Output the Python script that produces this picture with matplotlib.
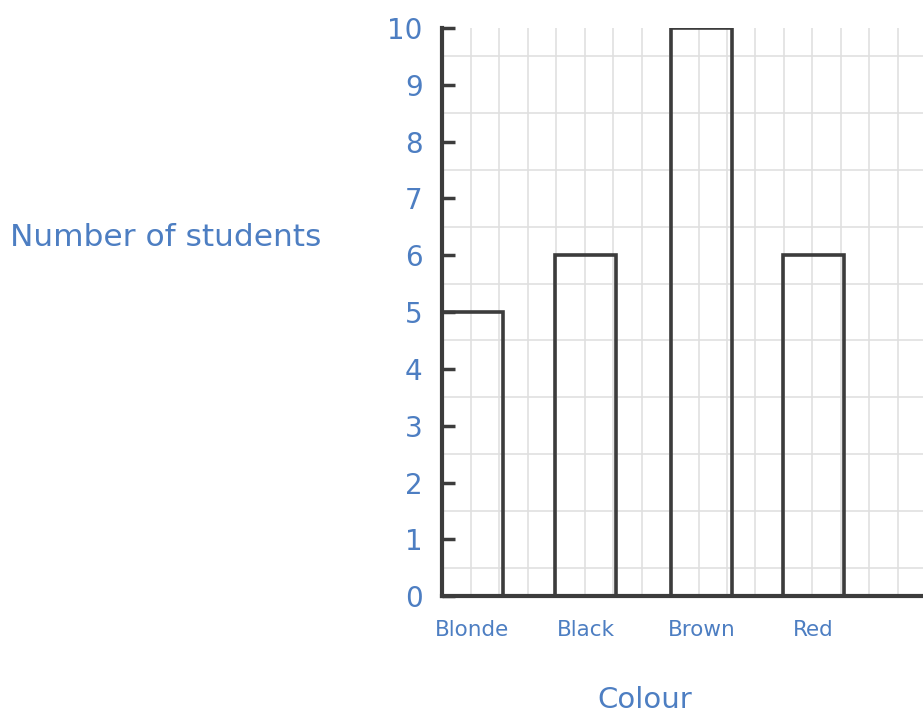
import matplotlib.pyplot as plt
import numpy as np

# hair colour survey
colours = ['Blonde', 'Black', 'Brown', 'Red']
students = [5, 6, 10, 6]
bar_pos = [0.53, 2.52, 4.55, 6.51]
y_ticks = list(range(0, 11))

blue = '#4d7ec2'
dark = '#3c3c3c'
font = 'DejaVu Sans'

fig = plt.figure(figsize=(9.23, 7.14), dpi=100)
ax = fig.add_axes([0.479, 0.165, 0.521, 0.796])

ax.bar(bar_pos, students, width=1.07, facecolor='none', edgecolor=dark,
       linewidth=2.6, zorder=3)

ax.set_xlim(0, 8.44)
ax.set_ylim(0, 10)

# graph paper grid every half unit
ax.set_xticks(np.arange(0, 8.5, 0.5), minor=True)
ax.set_yticks(np.arange(0, 10.5, 0.5), minor=True)
ax.grid(which='minor', color='#e0e0e0', linewidth=1.2, linestyle='-')
ax.tick_params(which='minor', length=0)

ax.set_yticks(y_ticks)
ax.set_yticklabels([str(t) for t in y_ticks], color=blue, fontsize=20,
                   family=font)
ax.tick_params(axis='y', direction='in', length=9, width=2.5, color=dark,
               pad=14)

ax.set_xticks(bar_pos)
ax.set_xticklabels(colours, color=blue, fontsize=15.5, family=font)
ax.tick_params(axis='x', length=0, pad=17)

for s in ['top', 'right']:
    ax.spines[s].set_visible(False)
for s in ['left', 'bottom']:
    ax.spines[s].set_color(dark)
    ax.spines[s].set_linewidth(3)
ax.set_axisbelow(True)

fig.text(0.011, 0.668, 'Number of students', color=blue, fontsize=22.5,
         family=font, va='center', ha='left')
fig.text(0.699, 0.02, 'Colour', color=blue, fontsize=21, family=font,
         ha='center', va='center')

fig.savefig('out.png', dpi=100)
